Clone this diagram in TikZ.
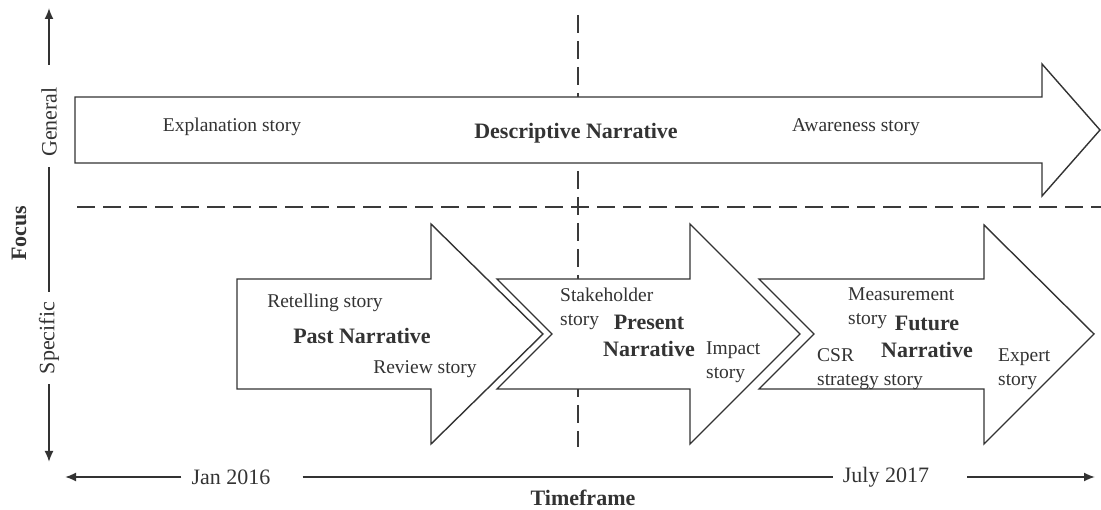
\documentclass[tikz,border=0pt]{standalone}
\usepackage{fontspec}
\setmainfont{Liberation Serif}
\usetikzlibrary{arrows.meta,positioning}
\definecolor{Ink}{HTML}{333333}
\definecolor{DashGray}{HTML}{3A3A3A}
\tikzset{
  story/.style={inner sep=0pt, text=Ink, font=\fontsize{19.5}{23.5}\selectfont, align=left},
  narr/.style={inner sep=0pt, text=Ink, font=\fontsize{22}{27}\selectfont\bfseries, align=center},
  axislabel/.style={text=Ink, font=\fontsize{22}{26}\selectfont, inner xsep=10pt, inner ysep=0pt},
  bigarrow/.style={draw=Ink, fill=white, line width=1.4pt, line join=miter},
  divider/.style={draw=DashGray, line width=2pt, dash pattern=on 18pt off 8pt},
  axisline/.style={draw=Ink, line width=1.8pt},
  arr/.style={-{Latex[length=11pt,width=9pt]}, axisline}
}

\begin{document}
\begin{tikzpicture}[x=1pt,y=-1pt]
\useasboundingbox (0,0) rectangle (1101,510);

\coordinate (vtop) at (578,15);
\coordinate (vbot) at (578,447);
\coordinate (hleft) at (77,207);
\coordinate (hright) at (1101,207);
\draw[divider] (vtop) -- (vbot);
\draw[divider] (hleft) -- (hright);

\draw[bigarrow] (75,97) -- (1042,97) -- (1042,64) -- (1100,130) -- (1042,196) -- (1042,163) -- (75,163) -- cycle;
\draw[bigarrow] (237,279) -- (431,279) -- (431,224) -- (543,334) -- (431,444) -- (431,389) -- (237,389) -- cycle;
\draw[bigarrow] (497,279) -- (690,279) -- (690,224) -- (800,334) -- (690,444) -- (690,389) -- (497,389) -- (552,334) -- cycle;
\draw[bigarrow] (759,279) -- (984,279) -- (984,225) -- (1094,334) -- (984,444) -- (984,389) -- (759,389) -- (814,334) -- cycle;

\node[story] (explanation) at (232,127) {Explanation story};
\node[narr] (descriptive) at (576,133) {Descriptive Narrative};
\node[story] (awareness) at (856,127) {Awareness story};

\node[story] (retelling) at (325,303) {Retelling story};
\node[narr] (past) at (362,336) {Past Narrative};
\node[story] (review) at (425,369) {Review story};

\node[story,anchor=west] (stakeholder) at (560,309) {Stakeholder\\story};
\node[narr] (present) at (649,336) {Present\\Narrative};
\node[story,anchor=west] (impact) at (706,362) {Impact\\story};

\node[story,anchor=west] (measurement) at (848,308) {Measurement\\story};
\node[narr] (future) at (927,337) {Future\\Narrative};
\node[story,anchor=west] (csr) at (817,369) {CSR\\strategy story};
\node[story,anchor=west] (expert) at (998,369) {Expert\\story};

\node[axislabel,rotate=90] (general) at (49,122) {General};
\node[axislabel,rotate=90] (specific) at (49,338) {Specific};
\node[narr,rotate=90] (focus) at (19,233) {Focus};
\coordinate (ftop) at (49,8);
\coordinate (fbot) at (49,462);
\draw[arr,shorten <=12pt] (general) -- (ftop);
\draw[axisline] (general) -- (specific);
\draw[arr] (specific) -- (fbot);

\node[axislabel] (jan) at (231,477) {Jan 2016};
\node[axislabel] (july) at (886,477) {July 2017};
\node[narr] (timeframe) at (583,498) {Timeframe};
\coordinate (tleft) at (65,477);
\coordinate (tright) at (1095,477);
\draw[arr] (jan) -- (tleft);
\draw[axisline,shorten <=22pt] (jan) -- (july);
\draw[arr,shorten <=28pt] (july) -- (tright);
\end{tikzpicture}
\end{document}
